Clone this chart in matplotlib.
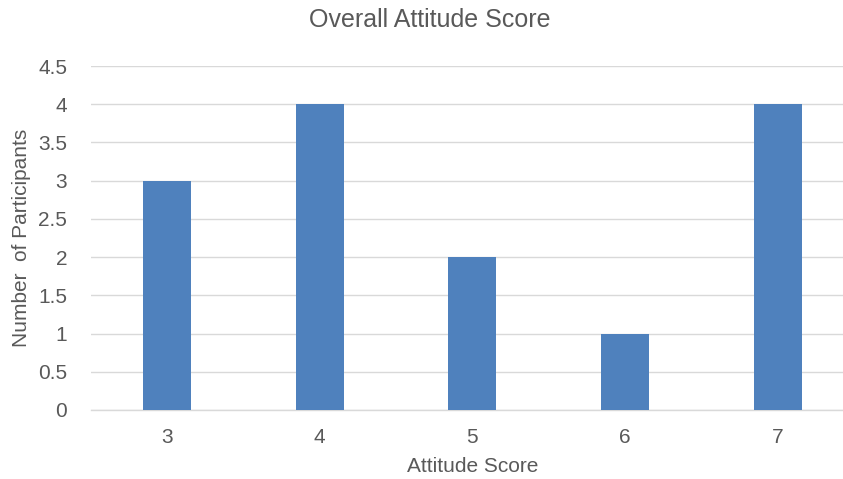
import matplotlib.pyplot as plt

plt.rcParams.update(
    {
        "font.family": ["Liberation Sans", "DejaVu Sans"],
        "text.color": "#595959",
        "axes.labelcolor": "#595959",
        "xtick.color": "#595959",
        "ytick.color": "#595959",
    }
)

scores = ["3", "4", "5", "6", "7"]
participants = [3, 4, 2, 1, 4]
y_ticks = [0, 0.5, 1, 1.5, 2, 2.5, 3, 3.5, 4, 4.5]
y_tick_labels = ["0", "0.5", "1", "1.5", "2", "2.5", "3", "3.5", "4", "4.5"]

BAR_BLUE = "#4F81BD"
GRID_GREY = "#D9D9D9"

fig = plt.figure(figsize=(8.43, 4.79), dpi=100)
ax = fig.add_axes([0.1075, 0.1441, 0.9056, 0.7181])

x = range(len(scores))
ax.bar(x, participants, width=0.314, color=BAR_BLUE, zorder=3)

ax.set_xlim(-0.5, len(scores) - 0.5)
ax.set_ylim(0, 4.5)
ax.set_yticks(y_ticks)
ax.set_yticklabels(y_tick_labels)
ax.set_xticks(list(x))
ax.set_xticklabels(scores)

ax.yaxis.grid(True, color=GRID_GREY, linewidth=1.0, zorder=0)
for side in ["top", "right", "left"]:
    ax.spines[side].set_visible(False)
ax.spines["bottom"].set_color(GRID_GREY)
ax.spines["bottom"].set_linewidth(1.0)
ax.tick_params(axis="both", length=0, labelsize=15)
ax.tick_params(axis="y", pad=17)
ax.tick_params(axis="x", pad=13)

ax.set_xlabel("Attitude Score", fontsize=15, labelpad=7)
ax.set_ylabel("Number  of Participants", fontsize=15, labelpad=5)
fig.text(0.51, 0.958, "Overall Attitude Score", ha="center", va="center",
         fontsize=18, color="#595959")

fig.savefig("out.png", dpi=100)
